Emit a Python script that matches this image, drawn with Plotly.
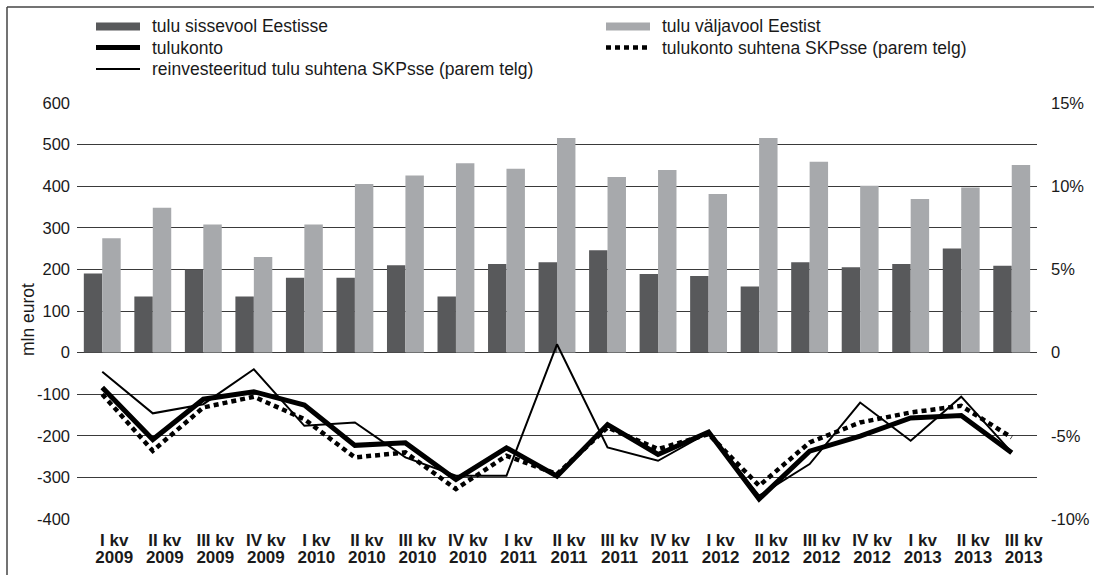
import plotly.graph_objects as go

# ---------------- data ----------------
quarters = ["I kv", "II kv", "III kv", "IV kv", "I kv", "II kv", "III kv", "IV kv",
            "I kv", "II kv", "III kv", "IV kv", "I kv", "II kv", "III kv", "IV kv",
            "I kv", "II kv", "III kv"]
years = ["2009", "2009", "2009", "2009", "2010", "2010", "2010", "2010",
         "2011", "2011", "2011", "2011", "2012", "2012", "2012", "2012",
         "2013", "2013", "2013"]

inflow = [190, 135, 200, 135, 180, 180, 210, 135, 213, 217, 246, 189, 184, 159, 217, 205, 213, 250, 209]
outflow = [275, 348, 308, 230, 308, 405, 426, 455, 442, 516, 422, 439, 381, 516, 459, 401, 369, 397, 451]
income_account = [-84, -209, -112, -94, -126, -223, -217, -305, -229, -297, -173, -245, -191, -352, -237, -201, -157, -151, -241]
income_account_gdp = [-2.5, -5.9, -3.3, -2.65, -4.0, -6.3, -6.0, -8.2, -6.2, -7.3, -4.5, -5.8, -4.9, -8.0, -5.4, -4.2, -3.6, -3.2, -5.1]
reinvested_gdp = [-1.15, -3.65, -3.1, -1.0, -4.4, -4.2, -6.3, -7.4, -7.4, 0.5, -5.7, -6.5, -4.8, -8.6, -6.7, -3.0, -5.3, -2.65, -6.0]

names = ["tulu sissevool Eestisse", "tulu väljavool Eestist", "tulukonto",
         "tulukonto suhtena SKPsse (parem telg)",
         "reinvesteeritud tulu suhtena SKPsse (parem telg)"]

left_ticks = [-400, -300, -200, -100, 0, 100, 200, 300, 400, 500, 600]
left_ticktext = ["-400", "-300", "-200", "-100", "0", "100", "200", "300", "400", "500", "600"]
right_ticks = [-10, -5, 0, 5, 10, 15]
right_ticktext = ["-10%", "-5%", "0", "5%", "10%", "15%"]

categories = [q + " " + y for q, y in zip(quarters, years)]

# ---------------- layout helpers ----------------
W, H = 1094, 575
ML, MR, MT, MB = 77, 57, 103, 56
PW = W - ML - MR
PH = H - MT - MB


def pxx(x):
    return (x - ML) / PW


def pxy(y):
    return (H - MB - y) / PH


DARK = "#58595b"
LIGHT = "#a7a9ac"
FONT = "Liberation Sans, Arial, sans-serif"

fig = go.Figure()
fig.add_bar(x=categories, y=inflow, name=names[0], marker=dict(color=DARK, line=dict(width=0)),
            showlegend=False)
fig.add_bar(x=categories, y=outflow, name=names[1], marker=dict(color=LIGHT, line=dict(width=0)),
            showlegend=False)
fig.add_scatter(x=categories, y=income_account, name=names[2], mode="lines",
                line=dict(color="black", width=5), xaxis="x2", yaxis="y", showlegend=False)
fig.add_scatter(x=categories, y=income_account_gdp, name=names[3], mode="lines",
                line=dict(color="black", width=4.5, dash="5px,4px"), xaxis="x2", yaxis="y2",
                showlegend=False)
fig.add_scatter(x=categories, y=reinvested_gdp, name=names[4], mode="lines",
                line=dict(color="black", width=2), xaxis="x2", yaxis="y2", showlegend=False)

tickfont = dict(family=FONT, size=16.5, color="#1a1a1a")
xfont = dict(family=FONT, size=17, color="#1a1a1a", weight="bold")

fig.update_layout(
    width=W, height=H,
    margin=dict(l=ML, r=MR, t=MT, b=MB, pad=0, autoexpand=False),
    paper_bgcolor="white", plot_bgcolor="white",
    barmode="group", bargap=0.27, bargroupgap=0,
    showlegend=False,
    xaxis=dict(type="category", categoryorder="array", categoryarray=categories,
               range=[-0.5, 18.5], tickmode="array", tickvals=categories, ticktext=quarters,
               showgrid=False, showline=False, zeroline=False, ticks="", automargin=False,
               tickfont=xfont, ticklabelshift=12, ticklabelstandoff=9),
    xaxis2=dict(type="category", categoryorder="array", categoryarray=categories,
                overlaying="x", anchor="y", side="bottom",
                range=[-0.5, 18.5], tickmode="array", tickvals=categories, ticktext=years,
                showgrid=False, showline=False, zeroline=False, ticks="", automargin=False,
                tickfont=xfont, ticklabelshift=12, ticklabelstandoff=26),
    yaxis=dict(range=[-400, 600], tickmode="array", tickvals=left_ticks, ticktext=left_ticktext,
               showgrid=True, gridcolor="#3a3a3a", gridwidth=1,
               zeroline=True, zerolinecolor="#3a3a3a", zerolinewidth=1, automargin=False,
               showline=False, ticks="", tickfont=tickfont, ticklabelstandoff=6),
    yaxis2=dict(range=[-10, 15], overlaying="y", side="right", anchor="x",
                tickmode="array", tickvals=right_ticks, ticktext=right_ticktext,
                showgrid=False, zeroline=False, showline=False, ticks="", automargin=False,
                tickfont=tickfont, ticklabelstandoff=13),
)

# y axis title
fig.add_annotation(text="mln eurot", xref="paper", yref="paper", x=pxx(28), y=pxy(320),
                   xanchor="center", yanchor="middle", textangle=-90, showarrow=False,
                   font=dict(family=FONT, size=17.5, color="#1a1a1a"))

# outer frame (top and left edges visible)
fig.add_shape(type="line", xref="paper", yref="paper", x0=pxx(7), x1=pxx(W + 5), y0=pxy(7), y1=pxy(7),
              line=dict(color="#444444", width=1.5))
fig.add_shape(type="line", xref="paper", yref="paper", x0=pxx(7), x1=pxx(7), y0=pxy(7), y1=pxy(H + 5),
              line=dict(color="#444444", width=1.5))

# legend (drawn manually to match the wide symbols)
legend_font = dict(family=FONT, size=17.5, color="#1a1a1a")
rows = [26.5, 47.5, 69]
col1_sym, col1_txt = (96, 140), 150
col2_sym, col2_txt = (606, 650), 660

entries = [
    (col1_sym, col1_txt, rows[0], names[0], "bar", DARK),
    (col2_sym, col2_txt, rows[0], names[1], "bar", LIGHT),
    (col1_sym, col1_txt, rows[1], names[2], "thick", None),
    (col2_sym, col2_txt, rows[1], names[3], "dot", None),
    (col1_sym, col1_txt, rows[2], names[4], "thin", None),
]
for (sx0, sx1), tx, ry, label, kind, color in entries:
    if kind == "bar":
        fig.add_shape(type="rect", xref="paper", yref="paper", x0=pxx(sx0), x1=pxx(sx1),
                      y0=pxy(ry - 4), y1=pxy(ry + 4), fillcolor=color, line=dict(width=0))
    else:
        width = {"thick": 5, "dot": 4.5, "thin": 2}[kind]
        dash = "5px,4px" if kind == "dot" else "solid"
        fig.add_shape(type="line", xref="paper", yref="paper", x0=pxx(sx0), x1=pxx(sx1),
                      y0=pxy(ry), y1=pxy(ry), line=dict(color="black", width=width, dash=dash))
    fig.add_annotation(text=label, xref="paper", yref="paper", x=pxx(tx), y=pxy(ry),
                       xanchor="left", yanchor="middle", showarrow=False, font=legend_font)

fig.write_html("out.html", config={"displayModeBar": False},
               post_script="document.body.style.margin='0';document.body.style.overflow='hidden';")
